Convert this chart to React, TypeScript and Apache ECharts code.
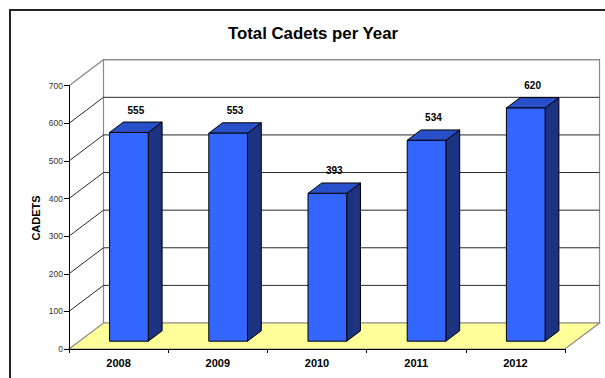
import React, { useEffect, useRef } from "react";
import * as echarts from "echarts";

const categories = ["2008", "2009", "2010", "2011", "2012"];
const cadets = [555, 553, 393, 534, 620];
const yTicks = [0, 100, 200, 300, 400, 500, 600, 700];
const Y_MAX = 700;
const TITLE = "Total Cadets per Year";
const Y_NAME = "CADETS";

const DX = 34.5;
const DY = -26;
const BAR_Z0 = 0.3;
const BAR_Z1 = 0.7;
const BAR_W = 0.39;
const FONT = "Liberation Sans, Arial, sans-serif";

export default function App() {
  const ref = useRef<HTMLDivElement>(null);
  useEffect(() => {
    const chart = echarts.init(ref.current!, null, { renderer: "svg" });

    const frameRender = (_params: any, api: any) => {
      const band = api.size([1, 0])[0];
      const first = api.coord([0, 0]);
      const last = api.coord([categories.length - 1, 0]);
      const x0 = first[0] - band / 2;
      const x1 = last[0] + band / 2;
      const yBase = first[1];
      const yTop = api.coord([0, Y_MAX])[1];
      const children: any[] = [];
      children.push({
        type: "polygon",
        shape: { points: [[x0, yTop], [x0 + DX, yTop + DY], [x0 + DX, yBase + DY], [x0, yBase]] },
        style: { fill: "#ffffff", stroke: "rgba(0,0,0,0)" },
      });
      children.push({
        type: "rect",
        shape: { x: x0 + DX, y: yTop + DY, width: x1 - x0, height: yBase - yTop },
        style: { fill: "#ffffff", stroke: "#8a8a8a", lineWidth: 1.2 },
      });
      children.push({
        type: "polygon",
        shape: { points: [[x0, yBase], [x1, yBase], [x1 + DX, yBase + DY], [x0 + DX, yBase + DY]] },
        style: { fill: "#FFFF99", stroke: "#8a8a8a", lineWidth: 1.2 },
      });
      yTicks.forEach((v) => {
        if (v === 0) return;
        const y = api.coord([0, v])[1];
        const isTop = v === Y_MAX;
        children.push({
          type: "polyline",
          shape: { points: [[x0, y], [x0 + DX, y + DY], [x1 + DX, y + DY]] },
          style: { fill: null, stroke: isTop ? "#8a8a8a" : "#2a2a2a", lineWidth: isTop ? 1.2 : 1 },
        });
      });
      return { type: "group", children };
    };

    const barRender = (_params: any, api: any) => {
      const idx = api.value(0);
      const val = api.value(1);
      const top = api.coord([idx, val]);
      const base = api.coord([idx, 0]);
      const band = api.size([1, 0])[0];
      const w = band * BAR_W;
      const fx0 = top[0] - w / 2 + DX * BAR_Z0;
      const fx1 = fx0 + w;
      const fyT = top[1] + DY * BAR_Z0;
      const fyB = base[1] + DY * BAR_Z0;
      const bdx = DX * (BAR_Z1 - BAR_Z0);
      const bdy = DY * (BAR_Z1 - BAR_Z0);
      const stroke = { stroke: "#000", lineWidth: 1 };
      return {
        type: "group",
        children: [
          {
            type: "polygon",
            shape: { points: [[fx1, fyT], [fx1 + bdx, fyT + bdy], [fx1 + bdx, fyB + bdy], [fx1, fyB]] },
            style: { fill: "#1B3380", ...stroke },
          },
          {
            type: "polygon",
            shape: { points: [[fx0, fyT], [fx1, fyT], [fx1 + bdx, fyT + bdy], [fx0 + bdx, fyT + bdy]] },
            style: { fill: "#2850C8", ...stroke },
          },
          {
            type: "rect",
            shape: { x: fx0, y: fyT, width: w, height: fyB - fyT },
            style: { fill: "#3366FF", ...stroke },
          },
          {
            type: "text",
            x: (fx0 + fx1) / 2 + bdx / 2,
            y: fyT + bdy - 12,
            style: {
              text: String(val),
              fill: "#000",
              font: `bold 10px ${FONT}`,
              align: "center",
              verticalAlign: "middle",
            },
          },
        ],
      };
    };

    chart.setOption({
      animation: false,
      textStyle: { fontFamily: FONT },
      graphic: [
        {
          type: "text",
          x: 313,
          y: 33,
          style: {
            text: TITLE,
            fill: "#000",
            font: `bold 16.8px ${FONT}`,
            align: "center",
            verticalAlign: "middle",
          },
          z: 100,
        },
        {
          type: "text",
          x: 36,
          y: 218,
          rotation: Math.PI / 2,
          style: {
            text: Y_NAME,
            fill: "#000",
            font: `bold 11px ${FONT}`,
            align: "center",
            verticalAlign: "middle",
          },
          z: 100,
        },
        {
          type: "rect",
          shape: { x: 10, y: 10, width: 700, height: 500 },
          style: { fill: "rgba(0,0,0,0)", stroke: "#222", lineWidth: 2 },
          silent: true,
          z: 100,
        },
      ],
      grid: { left: 69, right: 40, top: 85.7, bottom: 29, containLabel: false },
      xAxis: {
        type: "category",
        data: categories,
        z: 10,
        axisLine: { lineStyle: { color: "#000", width: 1 } },
        axisTick: { show: true, length: 4, lineStyle: { color: "#000" } },
        axisLabel: { fontSize: 11, fontWeight: "bold", color: "#000", margin: 8, fontFamily: FONT },
      },
      yAxis: {
        type: "value",
        min: 0,
        max: Y_MAX,
        interval: 100,
        z: 10,
        axisLine: { show: true, lineStyle: { color: "#000", width: 1 } },
        axisTick: { show: true, length: 5, lineStyle: { color: "#000" } },
        axisLabel: { fontSize: 8.5, color: "#333", margin: 6, fontFamily: FONT },
        splitLine: { show: false },
      },
      series: [
        {
          type: "custom",
          name: "frame",
          z: 1,
          clip: false,
          silent: true,
          renderItem: frameRender,
          data: [[0, 0]],
        },
        {
          type: "custom",
          name: "Cadets",
          z: 3,
          clip: false,
          renderItem: barRender,
          data: cadets.map((v, i) => [i, v]),
        },
      ],
    });
    return () => chart.dispose();
  }, []);
  return (
    <div
      ref={ref}
      style={{ position: "fixed", left: 0, top: 0, width: 605, height: 378, background: "#fff" }}
    />
  );
}
